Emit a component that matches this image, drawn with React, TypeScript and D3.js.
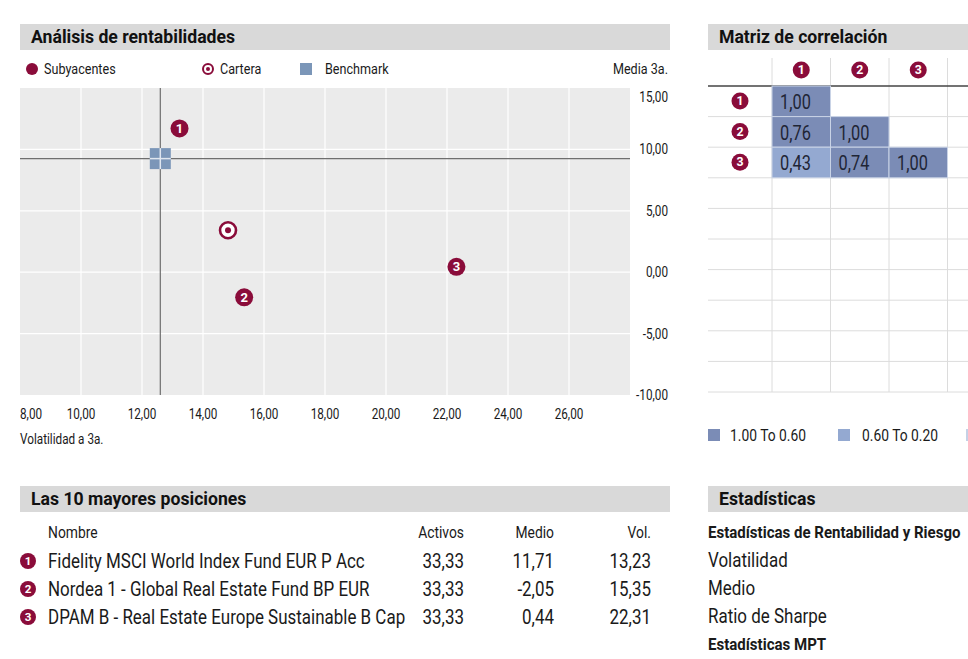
import * as d3 from 'd3';

// --- data ---
const fundNames = [
  'Fidelity MSCI World Index Fund EUR P Acc',
  'Nordea 1 - Global Real Estate Fund BP EUR',
  'DPAM B - Real Estate Europe Sustainable B Cap',
];
const fundWeights = [33.33, 33.33, 33.33];
const fundReturns = [11.71, -2.05, 0.44];
const fundVols = [13.23, 15.35, 22.31];
const portfolioPoint = { vol: 14.82, ret: 3.42 };
const benchmarkPoint = { vol: 12.6, ret: 9.25 };
const xTicks = [8, 10, 12, 14, 16, 18, 20, 22, 24, 26, 28];
const yTicks = [15, 10, 5, 0, -5, -10];
const correlations = [[1.0], [0.76, 1.0], [0.43, 0.74, 1.0]];
const corrLegend = ['1.00 To 0.60', '0.60 To 0.20'];
const statLines = [
  { text: 'Estadísticas de Rentabilidad y Riesgo', bold: true },
  { text: 'Volatilidad', bold: false },
  { text: 'Medio', bold: false },
  { text: 'Ratio de Sharpe', bold: false },
  { text: 'Estadísticas MPT', bold: true },
];

const FONT = "Roboto, 'DejaVu Sans Condensed', sans-serif";
const SX = 0.84; // horizontal squeeze to mimic a condensed face
const SX_BOLD = 0.98;
const MAROON = '#8a0c3a';
const HEADER_BG = '#d9d9d9';
const PLOT_BG = '#ebebeb';
const BENCH = '#7b96b8';
const CORR_HI = '#7b8cb6';
const CORR_MID = '#94a9d1';
const TEXT = '#1a1a1a';

const fmt = (v: number) => v.toFixed(2).replace('.', ',');

type TProps = {
  x: number; y: number; size: number; anchor?: 'start' | 'middle' | 'end';
  bold?: boolean; fill?: string; sx?: number; children: any;
};
function T({ x, y, size, anchor = 'start', bold = false, fill = TEXT, sx, children }: TProps) {
  const k = sx ?? (bold ? SX_BOLD : SX);
  return (
    <text transform={`translate(${x},${y}) scale(${k},1)`} textAnchor={anchor} fontSize={size}
      fontWeight={bold ? 'bold' : 'normal'} fill={fill} fontFamily={FONT}>{children}</text>
  );
}

function Badge({ cx, cy, r, n }: { cx: number; cy: number; r: number; n: number }) {
  return (
    <g>
      <circle cx={cx} cy={cy} r={r} fill={MAROON} />
      <text x={cx} y={cy + r * 0.5} textAnchor="middle" fill="#fff" fontWeight="bold"
        fontSize={r * 1.45} fontFamily={FONT}>{n}</text>
    </g>
  );
}

function SectionHeader({ x, y, w, title }: { x: number; y: number; w: number; title: string }) {
  return (
    <g>
      <rect x={x} y={y} width={w} height={26} fill={HEADER_BG} />
      <T x={x + 11} y={y + 19} size={18} bold fill="#111">{title}</T>
    </g>
  );
}

export default function App() {
  // scatter
  const plot = { left: 20, right: 630, top: 88, bottom: 395 };
  const x = d3.scaleLinear().domain([8, 28]).range([plot.left, plot.right]);
  const y = d3.scaleLinear().domain([-10, 15]).range([plot.bottom, plot.top]);

  // correlation matrix
  const nRows = 10;
  const corrLeft = 708;
  const colX0 = 772;
  const colStep = 58.5;
  const rowY = d3.scaleBand<number>().domain(d3.range(nRows)).range([86, 392]);
  const colX = (i: number) => colX0 + i * colStep;
  const corrColor = d3.scaleThreshold<number, string>().domain([0.2, 0.6]).range(['#c5d1e6', CORR_MID, CORR_HI]);

  // table
  const tableRowY = d3.scaleLinear().domain([0, 1]).range([561, 589]);

  const bx = x(benchmarkPoint.vol);
  const by = y(benchmarkPoint.ret);

  return (
    <svg width={968} height={659} style={{ position: 'absolute', left: 0, top: 0, background: '#fff' }}
      fontFamily={FONT}>
      {/* ---------- Análisis de rentabilidades ---------- */}
      <SectionHeader x={20} y={24} w={650} title="Análisis de rentabilidades" />
      <circle cx={32} cy={69} r={6} fill={MAROON} />
      <T x={44} y={74} size={15}>Subyacentes</T>
      <circle cx={208} cy={69} r={5} fill="#fff" stroke={MAROON} strokeWidth={2} />
      <circle cx={208} cy={69} r={2} fill={MAROON} />
      <T x={220} y={74} size={15}>Cartera</T>
      <rect x={300} y={63} width={12} height={12} fill={BENCH} />
      <T x={325} y={74} size={15}>Benchmark</T>
      <T x={668} y={74} size={15} anchor="end">Media 3a.</T>

      <rect x={plot.left} y={plot.top} width={plot.right - plot.left} height={plot.bottom - plot.top} fill={PLOT_BG} />
      {xTicks.slice(1, -1).map((t) => (
        <line key={'gx' + t} x1={x(t)} x2={x(t)} y1={plot.top} y2={plot.bottom} stroke="#fff" strokeWidth={1.2} />
      ))}
      {yTicks.slice(1, -1).map((t) => (
        <line key={'gy' + t} x1={plot.left} x2={plot.right} y1={y(t)} y2={y(t)} stroke="#fff" strokeWidth={1.2} />
      ))}

      {/* benchmark crosshair */}
      <line x1={bx} x2={bx} y1={plot.top} y2={plot.bottom} stroke="#6e6e6e" strokeWidth={1.2} />
      <line x1={plot.left} x2={plot.right} y1={by} y2={by} stroke="#6e6e6e" strokeWidth={1.2} />
      <rect x={bx - 10.5} y={by - 10.5} width={21} height={21} fill={BENCH} />
      <line x1={bx} x2={bx} y1={by - 10.5} y2={by + 10.5} stroke="#dfe6ef" strokeWidth={1.5} />
      <line x1={bx - 10.5} x2={bx + 10.5} y1={by} y2={by} stroke="#dfe6ef" strokeWidth={1.5} />

      {/* portfolio */}
      <circle cx={x(portfolioPoint.vol)} cy={y(portfolioPoint.ret)} r={8} fill="#fff" stroke={MAROON} strokeWidth={2.6} />
      <circle cx={x(portfolioPoint.vol)} cy={y(portfolioPoint.ret)} r={3} fill={MAROON} />

      {/* underlying funds */}
      {fundNames.map((_, i) => (
        <Badge key={'p' + i} cx={x(fundVols[i])} cy={y(fundReturns[i])} r={9} n={i + 1} />
      ))}

      {/* axes labels */}
      {xTicks.slice(0, -1).map((t, i) => (
        <T key={'xt' + t} x={x(t)} y={419} size={14} anchor={i === 0 ? 'start' : 'middle'}>{fmt(t)}</T>
      ))}
      {yTicks.map((t, i) => (
        <T key={'yt' + t} x={668} y={i === 0 ? y(t) + 14 : y(t) + 5} size={14} anchor="end">{fmt(t)}</T>
      ))}
      <T x={20} y={444} size={14}>Volatilidad a 3a.</T>

      {/* ---------- Matriz de correlación ---------- */}
      <SectionHeader x={708} y={24} w={260} title="Matriz de correlación" />
      {d3.range(nRows).map((i) => (
        <line key={'rl' + i} x1={corrLeft} x2={968} y1={(rowY(i) ?? 0) + rowY.bandwidth()} y2={(rowY(i) ?? 0) + rowY.bandwidth()} stroke="#dcdcdc" strokeWidth={1} />
      ))}
      {d3.range(5).map((j) => (
        <line key={'cl' + j} x1={colX(j)} x2={colX(j)} y1={58} y2={392} stroke="#dcdcdc" strokeWidth={1} />
      ))}
      <line x1={corrLeft} x2={968} y1={86} y2={86} stroke="#444" strokeWidth={1.3} />
      {correlations.map((row, i) =>
        row.map((v, j) => (
          <g key={`c${i}-${j}`}>
            <rect x={colX(j)} y={rowY(i)} width={colStep} height={rowY.bandwidth()} fill={corrColor(v)} stroke="#c9d3e6" strokeWidth={1} />
            <T x={colX(j) + 8} y={(rowY(i) ?? 0) + 23} size={19.5} fill="#1f2535">{fmt(v)}</T>
          </g>
        ))
      )}
      {correlations.map((_, i) => (
        <g key={'hb' + i}>
          <Badge cx={colX(i) + colStep / 2} cy={70} r={8.5} n={i + 1} />
          <Badge cx={740} cy={(rowY(i) ?? 0) + 15} r={8.5} n={i + 1} />
        </g>
      ))}
      {corrLegend.map((label, i) => (
        <g key={'lg' + i}>
          <rect x={708 + i * 130} y={429} width={12} height={12} fill={i === 0 ? CORR_HI : CORR_MID} />
          <T x={730 + i * 132} y={441} size={16.5}>{label}</T>
        </g>
      ))}
      <rect x={966} y={429} width={12} height={12} fill="#c5d1e6" />

      {/* ---------- Las 10 mayores posiciones ---------- */}
      <SectionHeader x={20} y={486} w={650} title="Las 10 mayores posiciones" />
      <T x={48} y={538} size={16.5}>Nombre</T>
      <T x={464} y={538} size={16.5} anchor="end">Activos</T>
      <T x={554} y={538} size={16.5} anchor="end">Medio</T>
      <T x={651} y={538} size={16.5} anchor="end">Vol.</T>
      {fundNames.map((name, i) => {
        const ty = tableRowY(i);
        return (
          <g key={'tr' + i}>
            <Badge cx={28} cy={ty} r={8} n={i + 1} />
            <T x={48} y={ty + 7} size={20.2}>{name}</T>
            <T x={464} y={ty + 7} size={20.2} anchor="end">{fmt(fundWeights[i])}</T>
            <T x={554} y={ty + 7} size={20.2} anchor="end">{fmt(fundReturns[i])}</T>
            <T x={651} y={ty + 7} size={20.2} anchor="end">{fmt(fundVols[i])}</T>
          </g>
        );
      })}

      {/* ---------- Estadísticas ---------- */}
      <SectionHeader x={708} y={486} w={260} title="Estadísticas" />
      {statLines.map((s, i) => (
        <T key={'st' + i} x={708} y={538 + i * 28 + (s.bold ? 0 : 1)} size={s.bold ? 16 : 20.2}
          bold={s.bold} sx={s.bold ? 0.94 : undefined}>{s.text}</T>
      ))}
    </svg>
  );
}
